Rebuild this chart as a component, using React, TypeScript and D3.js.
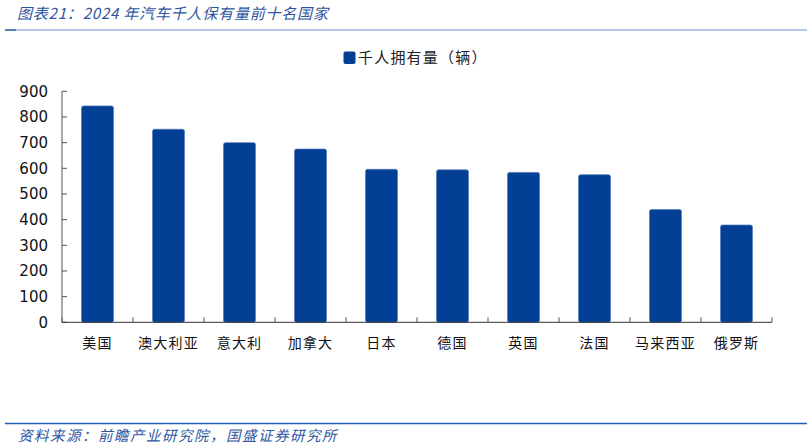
import React from "react"
import * as d3 from "d3"

const countries = ["美国", "澳大利亚", "意大利", "加拿大", "日本", "德国", "英国", "法国", "马来西亚", "俄罗斯"]
const carsPerThousand = [843, 752, 700, 675, 596, 594, 584, 575, 439, 379]
const yTicks = [0, 100, 200, 300, 400, 500, 600, 700, 800, 900]
const legendLabel = "千人拥有量（辆）"
const title = "图表21：2024 年汽车千人保有量前十名国家"
const source = "资料来源：前瞻产业研究院，国盛证券研究所"

const W = 810
const H = 448
const cjk = "'Noto Sans CJK SC', 'Noto Sans', sans-serif"
const barColor = "#023f95"

function App() {
  const margin = { left: 62, right: 38, top: 91.3, bottom: 125.7 }
  const innerBottom = H - margin.bottom

  const x = d3
    .scaleBand()
    .domain(countries)
    .range([margin.left, W - margin.right])
    .paddingInner(0.55)
    .paddingOuter(0.275)

  const y = d3.scaleLinear().domain([0, 900]).range([innerBottom, margin.top])

  // category boundaries for the inward tick marks
  const step = x.step()
  const boundaries = d3.range(countries.length + 1).map((i) => margin.left + i * step)

  return (
    <svg width={W} height={H} style={{ position: "absolute", left: 0, top: 0, background: "#fff" }}>
      {/* header */}
      <text x={17} y={19} fontSize={15} fontStyle="italic" fill="#2f55a0" fontFamily={cjk} letterSpacing={0.8}>
        {title}
      </text>
      <line x1={5} x2={807} y1={30} y2={30} stroke="#9bb5de" strokeWidth={1.6} />
      <line x1={5} x2={16} y1={30} y2={30} stroke="#3d6bb0" strokeWidth={1.6} />

      {/* legend */}
      <rect x={343.5} y={51.5} width={12} height={12.5} rx={2} fill={barColor} />
      <text x={358} y={63} fontSize={15} fill="#222" fontFamily={cjk} letterSpacing={1.2}>
        {legendLabel}
      </text>

      {/* bars */}
      {countries.map((c, i) => (
        <rect
          key={c}
          x={x(c)}
          y={y(carsPerThousand[i])}
          width={x.bandwidth()}
          height={innerBottom - y(carsPerThousand[i])}
          rx={2}
          fill={barColor}
          stroke="#4f78b8"
          strokeWidth={0.7}
        />
      ))}

      {/* y axis */}
      <line x1={margin.left} x2={margin.left} y1={margin.top} y2={innerBottom} stroke="#555" strokeWidth={1} />
      {yTicks.map((t) => (
        <g key={t}>
          <line x1={margin.left} x2={margin.left + 5} y1={y(t)} y2={y(t)} stroke="#555" />
          <text
            x={48}
            y={y(t)}
            dy="0.36em"
            textAnchor="end"
            fontSize={15}
            fill="#111"
            fontFamily="'DejaVu Sans', Verdana, sans-serif"
          >
            {t}
          </text>
        </g>
      ))}

      {/* x axis */}
      <line x1={margin.left} x2={W - margin.right} y1={innerBottom} y2={innerBottom} stroke="#333" strokeWidth={1} />
      {boundaries.map((bx, i) => (
        <line key={i} x1={bx} x2={bx} y1={innerBottom} y2={innerBottom - 5} stroke="#555" />
      ))}
      {countries.map((c) => (
        <text
          key={c}
          x={(x(c) ?? 0) + x.bandwidth() / 2}
          y={348}
          textAnchor="middle"
          fontSize={14}
          fill="#111"
          fontFamily={cjk}
          letterSpacing={1.2}
        >
          {c}
        </text>
      ))}

      {/* footer */}
      <line x1={5} x2={807} y1={423.5} y2={423.5} stroke="#1f5fb8" strokeWidth={1.6} />
      <text x={18} y={441} fontSize={14.5} fontStyle="italic" fill="#2f55a0" fontFamily={cjk} letterSpacing={1.5}>
        {source}
      </text>
    </svg>
  )
}

export default App
